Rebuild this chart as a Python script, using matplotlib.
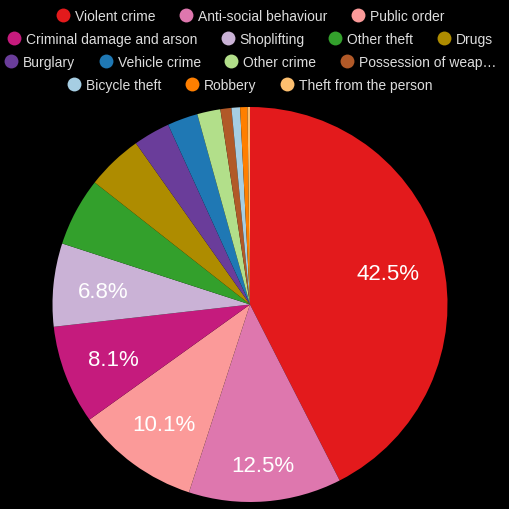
import matplotlib
matplotlib.use('Agg')
import matplotlib.pyplot as plt
import numpy as np

categories = ['Violent crime', 'Anti-social behaviour', 'Public order',
              'Criminal damage and arson', 'Shoplifting', 'Other theft', 'Drugs',
              'Burglary', 'Vehicle crime', 'Other crime', 'Possession of weapons',
              'Bicycle theft', 'Robbery', 'Theft from the person']
shares = [42.5, 12.5, 10.1, 8.1, 6.8, 5.6, 4.6, 3.0, 2.5, 1.9, 0.9, 0.7, 0.6, 0.2]
colors = ['#e31a1c', '#de77ae', '#fb9a99', '#c51b7d', '#cab2d6', '#33a02c', '#ae8c00',
          '#6a3d9a', '#1f78b4', '#b2df8a', '#b15928', '#a6cee3', '#ff7f00', '#fdbf6f']
legend_rows = [
    ['Violent crime', 'Anti-social behaviour', 'Public order'],
    ['Criminal damage and arson', 'Shoplifting', 'Other theft', 'Drugs'],
    ['Burglary', 'Vehicle crime', 'Other crime', 'Possession of weap\u2026'],
    ['Bicycle theft', 'Robbery', 'Theft from the person'],
]
# how far out each percentage label sits (fraction of radius)
label_dist = [0.717, 0.807, 0.739, 0.742, 0.746]

W = H = 510
plt.rcParams['font.family'] = ['Liberation Sans', 'DejaVu Sans']
fig = plt.figure(figsize=(W / 100, H / 100), dpi=100, facecolor='black')

# pie
ax = fig.add_axes([52.5 / W, 7 / H, 395 / W, 395 / H])
ax.set_facecolor('black')


def fmt(p):
    return f'{p:.1f}%' if p >= 6 else ''


wedges, texts, autotexts = ax.pie(shares, colors=colors, startangle=90, counterclock=False,
                                  autopct=fmt, pctdistance=0.7, radius=1,
                                  wedgeprops=dict(linewidth=0),
                                  textprops=dict(color='white', fontsize=16))
for w, t, d in zip(wedges, autotexts, label_dist):
    mid = np.deg2rad((w.theta1 + w.theta2) / 2)
    t.set_position((d * np.cos(mid), d * np.sin(mid) - 0.01))
ax.set_xlim(-1, 1)
ax.set_ylim(-1, 1)
ax.set_aspect('equal')
ax.axis('off')

# legend drawn by hand, rows centred
lax = fig.add_axes([0, 0, 1, 1])
lax.set_xlim(0, W)
lax.set_ylim(H, 0)
lax.axis('off')
lax.patch.set_alpha(0)
renderer = fig.canvas.get_renderer()

color_of = {c[:18]: col for c, col in zip(categories, colors)}
row_y = [16, 39, 62, 85]
marker_d = 14
gap_in = 5
gap_out = 23.5
for row, y in zip(legend_rows, row_y):
    tw = []
    for lab in row:
        t = lax.text(0, y, lab, fontsize=10, color='#dddddd', va='baseline')
        tw.append(t.get_window_extent(renderer).width)
        t.remove()
    total = sum(marker_d + gap_in + w for w in tw) + gap_out * (len(row) - 1)
    x = 250 - total / 2
    for lab, w in zip(row, tw):
        col = color_of[lab[:18]]
        lax.plot(x + marker_d / 2, y, 'o', color=col, markersize=10, markeredgewidth=0)
        lax.text(x + marker_d + gap_in, y + 4.8, lab, fontsize=10, color='#dddddd', va='baseline')
        x += marker_d + gap_in + w + gap_out

fig.savefig('out.png', dpi=100, facecolor='black')
